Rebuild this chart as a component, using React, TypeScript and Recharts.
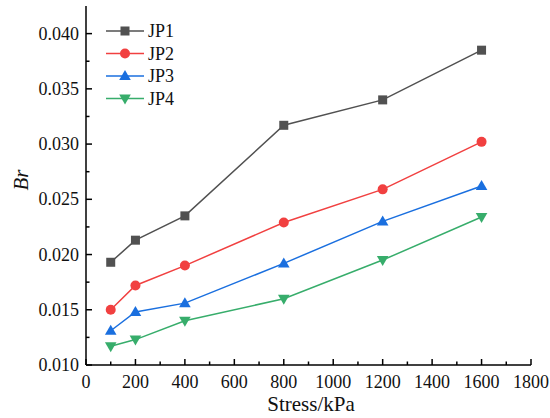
import React from 'react';
import { LineChart, Line, XAxis, YAxis, Legend } from 'recharts';

const stress = [100, 200, 400, 800, 1200, 1600];
const jp1 = [0.0193, 0.0213, 0.0235, 0.0317, 0.0340, 0.0385];
const jp2 = [0.0150, 0.0172, 0.0190, 0.0229, 0.0259, 0.0302];
const jp3 = [0.0131, 0.0148, 0.0156, 0.0192, 0.0230, 0.0262];
const jp4 = [0.0117, 0.0123, 0.0140, 0.0160, 0.0195, 0.0234];
const seriesNames = ['JP1', 'JP2', 'JP3', 'JP4'];
const seriesColors = ['#515151', '#F14040', '#1A6FDF', '#37AD6B'];
const seriesShapes = ['square', 'circle', 'triangle', 'triangleDown'];

const xTicks = [0, 100, 200, 300, 400, 500, 600, 700, 800, 900, 1000, 1100, 1200, 1300, 1400, 1500, 1600, 1700, 1800];
const yTicks = [0.01, 0.0125, 0.015, 0.0175, 0.02, 0.0225, 0.025, 0.0275, 0.03, 0.0325, 0.035, 0.0375, 0.04];

const FONT = '"Liberation Serif", "Times New Roman", serif';

const data = stress.map((s, i) => ({
  stress: s,
  JP1: jp1[i],
  JP2: jp2[i],
  JP3: jp3[i],
  JP4: jp4[i],
}));

function Marker({ shape, cx, cy, color }: { shape: string; cx: number; cy: number; color: string }) {
  if (shape === 'square') {
    return <rect x={cx - 4.5} y={cy - 4.5} width={9} height={9} fill={color} />;
  }
  if (shape === 'circle') {
    return <circle cx={cx} cy={cy} r={5} fill={color} />;
  }
  if (shape === 'triangle') {
    return <path d={`M${cx},${cy - 6} L${cx + 5.8},${cy + 4} L${cx - 5.8},${cy + 4} Z`} fill={color} />;
  }
  return <path d={`M${cx},${cy + 6} L${cx + 5.8},${cy - 4} L${cx - 5.8},${cy - 4} Z`} fill={color} />;
}

const makeDot = (shape: string, color: string) => (p: any) => {
  if (p.cx == null || p.cy == null) return <g key={p.index} />;
  return (
    <g key={`${shape}-${p.index}`}>
      <Marker shape={shape} cx={p.cx} cy={p.cy} color={color} />
    </g>
  );
};

const XTick = (props: any) => {
  const { x, y, payload } = props;
  const v = payload.value;
  const major = Math.round(v) % 200 === 0;
  return (
    <g>
      <line x1={x} x2={x} y1={y} y2={y - (major ? 6 : 3.5)} stroke="#000" strokeWidth={1.5} />
      {major && (
        <text x={x} y={y + 22.5} textAnchor="middle" fontSize={18} fontFamily={FONT} fill="#111">
          {v}
        </text>
      )}
    </g>
  );
};

const YTick = (props: any) => {
  const { x, y, payload } = props;
  const v = payload.value;
  const major = Math.round(v * 10000) % 50 === 0;
  return (
    <g>
      <line x1={x} x2={x + (major ? 6 : 3.5)} y1={y} y2={y} stroke="#000" strokeWidth={1.5} />
      {major && (
        <text x={x - 7} y={y + 6} textAnchor="end" fontSize={18} fontFamily={FONT} fill="#111">
          {v.toFixed(3)}
        </text>
      )}
    </g>
  );
};

const renderLegend = () => (
  <svg width={120} height={100}>
    {seriesNames.map((n, i) => {
      const cy = 13 + i * 22.5;
      return (
        <g key={n}>
          <line x1={6} x2={44} y1={cy} y2={cy} stroke={seriesColors[i]} strokeWidth={1.5} />
          <Marker shape={seriesShapes[i]} cx={25} cy={cy} color={seriesColors[i]} />
          <text x={48} y={cy + 6} fontSize={18} fontFamily={FONT} fill="#111">
            {n}
          </text>
        </g>
      );
    })}
  </svg>
);

export default function App() {
  return (
    <div style={{ position: 'absolute', left: 0, top: 0, width: 550, height: 418, background: '#fff' }}>
      <LineChart width={550} height={418} data={data} margin={{ top: 6, right: 19, bottom: 0, left: 0 }}>
        <XAxis
          dataKey="stress"
          type="number"
          domain={[0, 1800]}
          ticks={xTicks}
          interval={0}
          height={53}
          tickSize={0}
          tickMargin={0}
          tickLine={false}
          tick={<XTick />}
          axisLine={{ stroke: '#000', strokeWidth: 1.5 }}
          label={{
            content: () => (
              <text x={311} y={411} textAnchor="middle" fontSize={21} fontFamily={FONT} fill="#111">
                Stress/kPa
              </text>
            ),
          }}
        />
        <YAxis
          type="number"
          domain={[0.01, 0.0425]}
          ticks={yTicks}
          interval={0}
          width={86}
          tickSize={0}
          tickMargin={0}
          tickLine={false}
          tick={<YTick />}
          axisLine={{ stroke: '#000', strokeWidth: 1.5 }}
          allowDataOverflow
          label={{
            content: () => (
              <text
                transform="translate(21,180) rotate(-90)"
                textAnchor="middle"
                dominantBaseline="central"
                fontSize={21}
                fontStyle="italic"
                fontFamily={FONT}
                fill="#111"
              >
                Br
              </text>
            ),
          }}
        />
        <Legend
          layout="vertical"
          align="center"
          verticalAlign="middle"
          content={renderLegend}
          wrapperStyle={{ position: 'absolute', left: 100, top: 18, width: 120, height: 100 }}
        />
        {seriesNames.map((n, i) => (
          <Line
            key={n}
            type="linear"
            dataKey={n}
            name={n}
            stroke={seriesColors[i]}
            strokeWidth={1.5}
            dot={makeDot(seriesShapes[i], seriesColors[i])}
            activeDot={false}
            isAnimationActive={false}
          />
        ))}
      </LineChart>
    </div>
  );
}
